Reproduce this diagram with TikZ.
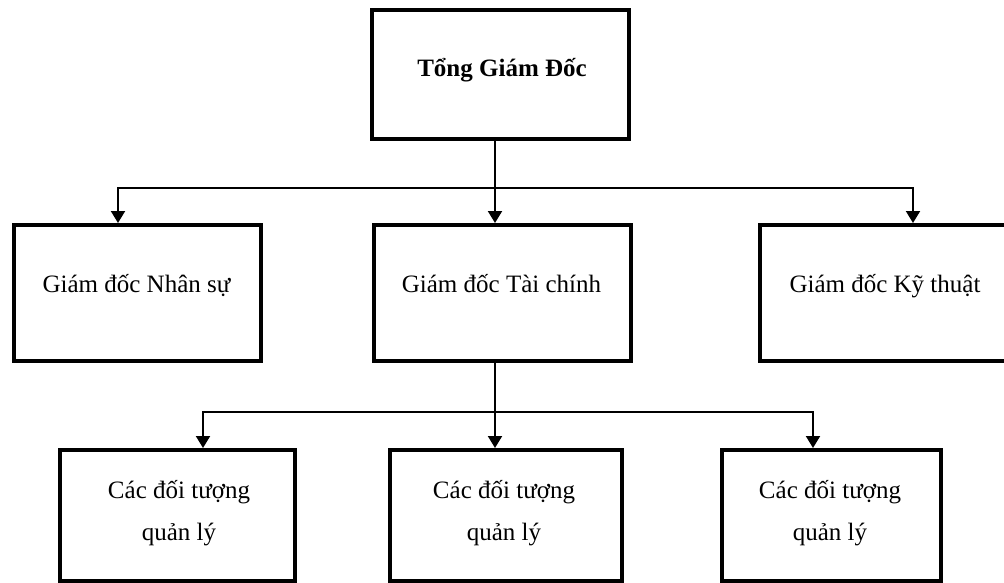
\documentclass[tikz,border=0pt]{standalone}
\usepackage{fontspec}
\setmainfont{Liberation Serif}
\usetikzlibrary{arrows.meta}
\begin{document}
\begin{tikzpicture}[x=1pt, y=-1pt,
  box/.style={draw, line width=4pt, inner sep=0pt, minimum width=#1},
  lbl/.style={font=\fontsize{25}{42}\selectfont, anchor=base, inner sep=0pt, align=center},
  conn/.style={line width=2pt, line join=miter},
  tip/.style={-{Triangle[width=14pt,length=12pt]}},
  tips/.style={{Triangle[width=14pt,length=12pt]}-{Triangle[width=14pt,length=12pt]}}]
\useasboundingbox (0,0) rectangle (1004,583);
\clip (0,0) rectangle (1004,583);

% boxes
\node[box=257pt, minimum height=129pt] (ceo) at (500.5,74.5) {};
\node[box=247pt, minimum height=136pt] (hr)  at (137.5,293) {};
\node[box=257pt, minimum height=136pt] (fin) at (502.5,293) {};
\node[box=250pt, minimum height=136pt] (tech) at (885,293) {};
\node[box=235pt, minimum height=131pt] (u1) at (177.5,515.5) {};
\node[box=232pt, minimum height=131pt] (u2) at (506,515.5) {};
\node[box=219pt, minimum height=131pt] (u3) at (831.5,515.5) {};

% labels (multi-line labels are anchored on the baseline of their last line)
\node[lbl] (ceot) at (502,77) {\bfseries Tổng Giám Đốc};
\node[lbl] (hrt) at (136.5,292) {Giám đốc Nhân sự};
\node[lbl] (fint) at (501.5,292) {Giám đốc Tài chính};
\node[lbl] (techt) at (885,292) {Giám đốc Kỹ thuật};
\node[lbl] (u1t) at (179,540) {Các đối tượng\\quản lý};
\node[lbl] (u2t) at (504,540) {Các đối tượng\\quản lý};
\node[lbl] (u3t) at (830,540) {Các đối tượng\\quản lý};

% junction points of the two distribution lines
\coordinate (ja) at (495,188);
\coordinate (jal) at (118,188);
\coordinate (jar) at (913,188);
\coordinate (jb) at (495,412);
\coordinate (jbl) at (203,412);
\coordinate (jbr) at (813,412);

% connectors
\draw[conn, tip] (ja |- ceo.south) -- (ja |- fin.north);
\draw[conn, tips] (jal |- hr.north) -- (jal) -- (jar) -- (jar |- tech.north);
\draw[conn, tip] (jb |- fin.south) -- (jb |- u2.north);
\draw[conn, tips] (jbl |- u1.north) -- (jbl) -- (jbr) -- (jbr |- u3.north);
\end{tikzpicture}
\end{document}
